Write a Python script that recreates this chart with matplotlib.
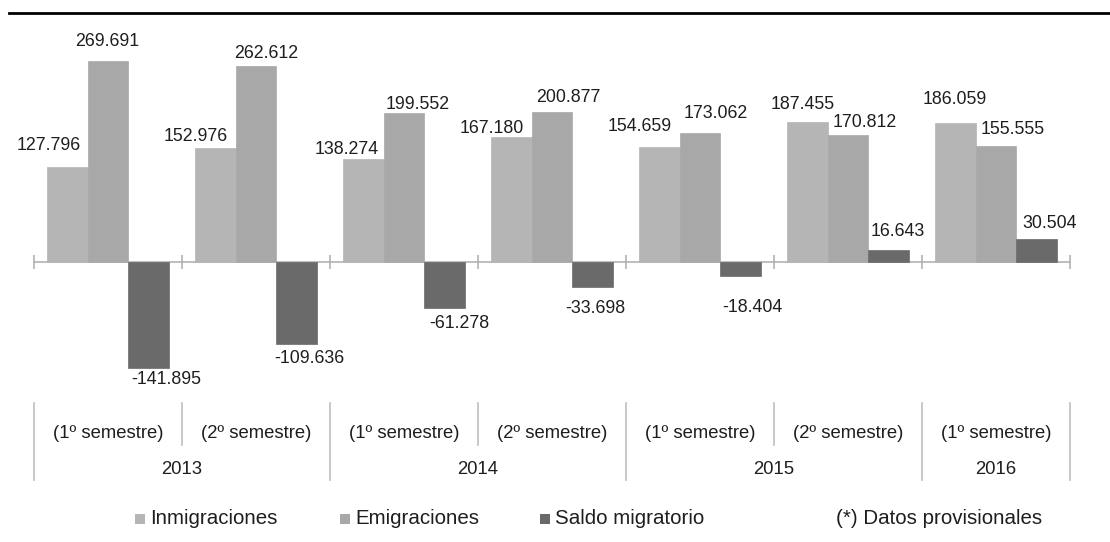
import matplotlib
matplotlib.use('Agg')
import matplotlib.pyplot as plt
import numpy as np
from matplotlib import transforms
from matplotlib.patches import Rectangle
from matplotlib.lines import Line2D

plt.rcParams['font.family'] = ['Liberation Sans', 'DejaVu Sans']

# ---------------- data ----------------
periodos = ['(1º semestre)', '(2º semestre)', '(1º semestre)', '(2º semestre)',
            '(1º semestre)', '(2º semestre)', '(1º semestre)']
anios = ['2013', '2014', '2015', '2016']
anio_span = [2, 2, 2, 1]
series = ['Inmigraciones', 'Emigraciones', 'Saldo migratorio']
inmigraciones = [127796, 152976, 138274, 167180, 154659, 187455, 186059]
emigraciones = [269691, 262612, 199552, 200877, 173062, 170812, 155555]
saldo = [-141895, -109636, -61278, -33698, -18404, 16643, 30504]
nota = '(*) Datos provisionales'

# ---------------- style ----------------
colors = ['#b5b5b5', '#a8a8a8', '#6a6a6a']
text_color = '#1e1e1e'
W, H = 1110, 542

# label offsets in pixels (dx, dy) from bar end (manual placement as in source)
label_offsets = [
    [(-18, 21), (-19, 12), (-16, 9), (-19, 9), (-19, 20), (-4, 18), (0, 24)],
    [(-1, 20), (10, 13), (14, 9), (16, 15), (16, 20), (17, 12), (17, 17)],
    [(17, -12), (12, -15), (14, -16), (2, -21), (11, -32), (9, 18), (13, 16)],
]

fig = plt.figure(figsize=(W / 100, H / 100), dpi=100)
fig.patch.set_facecolor('white')

# axes: x 34..1070 px, y 20..400 px from top
ax = fig.add_axes([34 / W, (H - 400) / H, 1036 / W, 380 / H])
ax.set_facecolor('none')
px_per_unit = 0.745 / 1000
ax.set_xlim(0, len(periodos))
ax.set_ylim(-(400 - 262) / px_per_unit, (262 - 20) / px_per_unit)

data = [inmigraciones, emigraciones, saldo]
n = len(periodos)
x = np.arange(n) + 0.5
bw = 0.277
for k, vals in enumerate(data):
    pos = x + (k - 1) * bw
    ax.bar(pos, vals, width=bw, color=colors[k], edgecolor=colors[k],
           linewidth=0.5, zorder=3)
    for i, v in enumerate(vals):
        dx, dy = label_offsets[k][i]
        ax.annotate(f"{v:,}".replace(',', '.'), xy=(pos[i], v),
                    xytext=(dx, dy), textcoords='offset pixels',
                    ha='center', va='center', fontsize=12.8,
                    color=text_color, annotation_clip=False, zorder=5)

# axis line at zero with tick marks at group boundaries
for s in ['top', 'right', 'left']:
    ax.spines[s].set_visible(False)
ax.spines['bottom'].set_position(('data', 0))
ax.spines['bottom'].set_color('#b3b3b3')
ax.spines['bottom'].set_linewidth(1.2)
ax.spines['bottom'].set_zorder(2)
ax.set_xticks(np.arange(n + 1))
ax.set_xticklabels([])
ax.tick_params(axis='x', direction='inout', length=10, width=1.2, color='#b3b3b3')
ax.set_yticks([])

# top rule
fig.add_artist(Line2D([9 / W, 1.0], [1 - 12.5 / H, 1 - 12.5 / H],
                      color='black', linewidth=2, transform=fig.transFigure))

# category table below
tr = transforms.blended_transform_factory(ax.transData, fig.transFigure)
def fy(py):
    return 1 - py / H

for i, lab in enumerate(periodos):
    fig.text(x[i], fy(433), lab, transform=tr, ha='center', va='center',
             fontsize=13.3, color=text_color)

bounds = np.concatenate([[0], np.cumsum(anio_span)])
for j, yr in enumerate(anios):
    cx = (bounds[j] + bounds[j + 1]) / 2
    fig.text(cx, fy(469), yr, transform=tr, ha='center', va='center',
             fontsize=13.3, color=text_color)
for b in bounds:
    fig.add_artist(Line2D([b, b], [fy(403), fy(480)], color='#c4c4c4',
                          linewidth=1.3, transform=tr))
for i in range(1, n):
    if i not in bounds:
        fig.add_artist(Line2D([i, i], [fy(403), fy(445)], color='#c4c4c4',
                              linewidth=1.3, transform=tr))

# legend (manual)
leg_sq_x = [135, 340, 540]
leg_y = 519
sq = 10
for k, name in enumerate(series):
    fig.add_artist(Rectangle((leg_sq_x[k] / W, (H - leg_y - sq / 2) / H), sq / W, sq / H,
                             facecolor=colors[k], edgecolor='none',
                             transform=fig.transFigure))
    fig.text((leg_sq_x[k] + sq + 5) / W, fy(leg_y), name, ha='left', va='center',
             fontsize=14.8, color=text_color)
fig.text(836 / W, fy(leg_y), nota, ha='left', va='center', fontsize=14.8,
         color=text_color)

fig.savefig('out.png', dpi=100, facecolor='white')
